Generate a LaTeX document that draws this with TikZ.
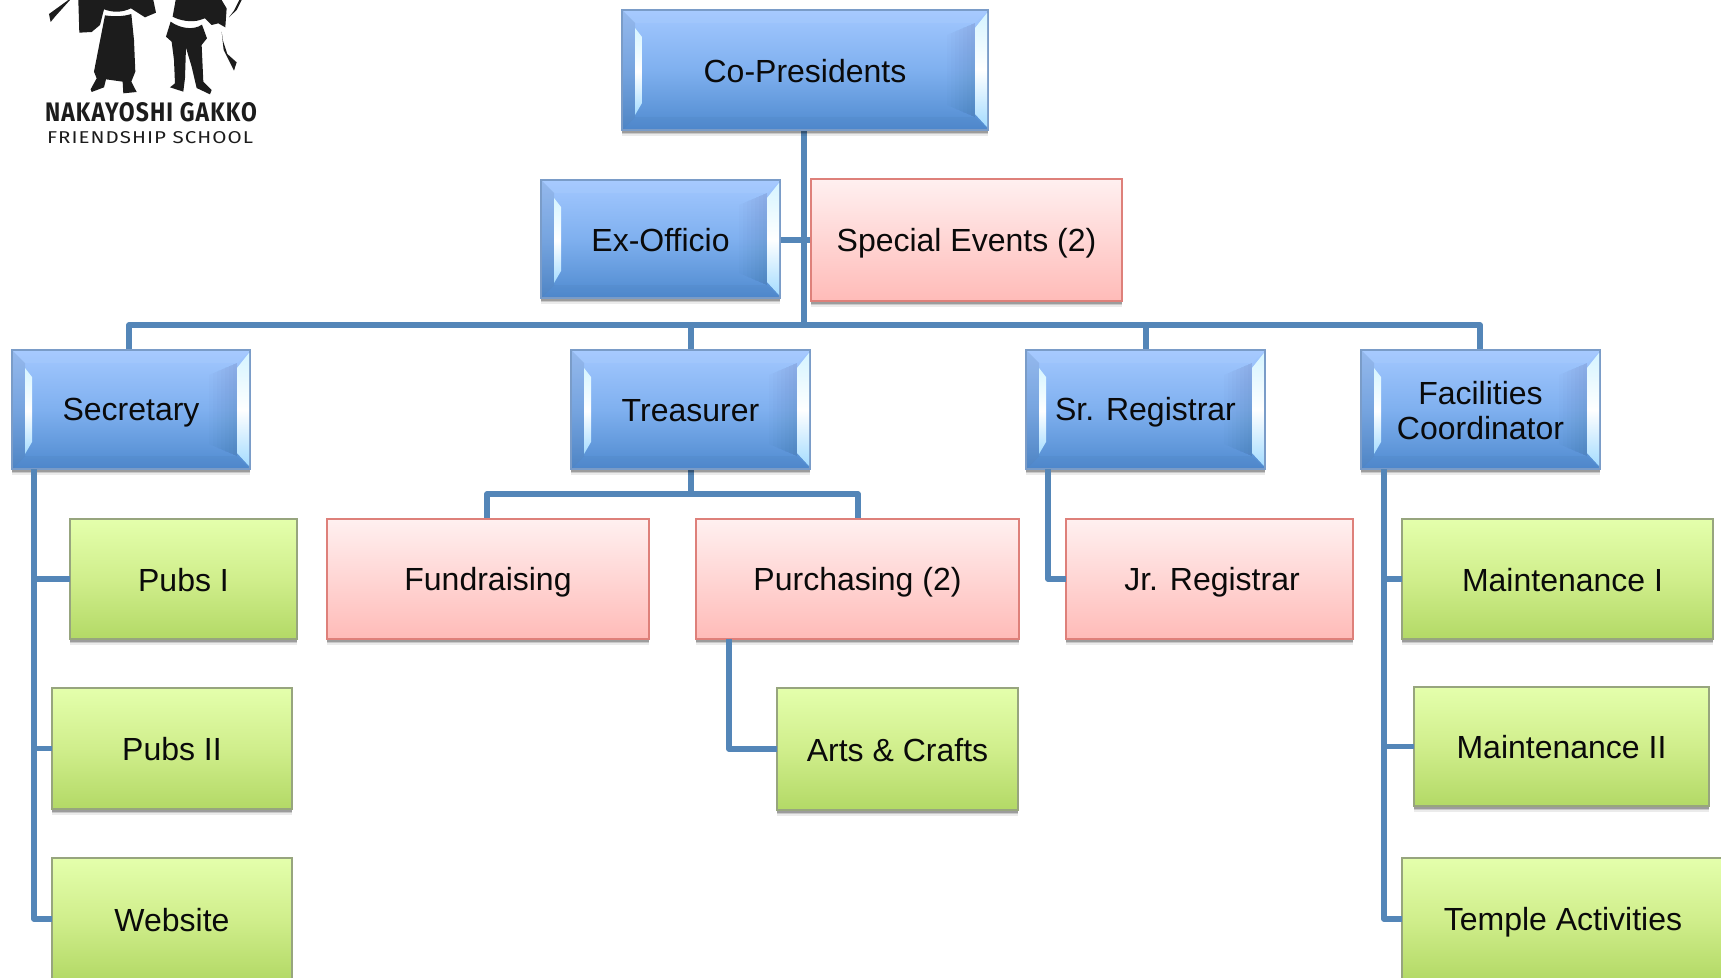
\documentclass[tikz,border=0pt]{standalone}
\usepackage{fontspec}
\setmainfont{Liberation Sans}
\newfontfamily\logofont{Fira Sans}
\usetikzlibrary{calc}
\definecolor{linkblue}{HTML}{5486B8}
\definecolor{inkc}{HTML}{0A0A0A}
\definecolor{logoc}{HTML}{1C1C1C}
\definecolor{bluetop}{HTML}{A3C8FF}\definecolor{bluemid}{HTML}{7FB0EF}\definecolor{bluebot}{HTML}{4F8ACF}
\definecolor{blueedge}{HTML}{7A9CC8}
\definecolor{stripA}{HTML}{D5F4FF}\definecolor{stripB}{HTML}{A5DCFF}
\definecolor{greentop}{HTML}{E4FFAC}\definecolor{greenmid}{HTML}{D0EE8C}\definecolor{greenbot}{HTML}{B3D966}
\definecolor{greenedge}{HTML}{97A57E}
\definecolor{pinktop}{HTML}{FFF0F0}\definecolor{pinkbot}{HTML}{FFBBB8}
\definecolor{pinkedge}{HTML}{DE807A}
\tikzset{
  x=1pt,y=-1pt,
  softshadow/.style={
    preaction={fill=black,opacity=.08,transform canvas={yshift=-5.5pt}},
    preaction={fill=black,opacity=.14,transform canvas={yshift=-4pt}},
    preaction={fill=black,opacity=.22,transform canvas={yshift=-2.5pt}}},
  basebox/.style={rectangle,inner sep=0pt,outer sep=0pt,align=center,text=inkc,
    font=\fontsize{32}{35}\selectfont,softshadow},
  greenbox/.style={basebox,draw=greenedge,line width=1.8pt,top color=greentop,bottom color=greenbot,middle color=greenmid},
  pinkbox/.style={basebox,draw=pinkedge,line width=2pt,top color=pinktop,bottom color=pinkbot},
  bluebox/.style={basebox,draw=blueedge,line width=2pt,top color=bluetop,bottom color=bluebot,middle color=bluemid},
  link/.style={draw=linkblue,line width=5.5pt,line join=round},
  logoshape/.style={fill=logoc,draw=none},
  logotext/.style={inner sep=0pt,outer sep=0pt,text=logoc},
}
\newcommand{\lblst}{\rule[-5.5pt]{0pt}{35pt}}
\newcommand{\orgbox}[7]{%
  \pgfmathsetmacro{\boxw}{#5-#3}\pgfmathsetmacro{\boxh}{#6-#4}%
  \pgfmathsetmacro{\cx}{(#3+#5)/2}\pgfmathsetmacro{\cy}{(#4+#6)/2}%
  \node[#1,minimum width=\boxw pt,minimum height=\boxh pt] (#2) at (\cx,\cy) {\lblst #7\lblst};}
\newcommand{\bevelbox}[6]{%
  \orgbox{bluebox}{#1}{#2}{#3}{#4}{#5}{#6}%
  \begin{scope}[shift={(#2,#3)}]
    \fill[black!40!bluemid,opacity=.16] (1,1) -- (13,13) -- (13,\boxh-13) -- (1,\boxh-1) -- cycle;
    \fill[white,opacity=.05] (1,1) -- (\boxw-1,1) -- (\boxw-13,13) -- (13,13) -- cycle;
    \fill[black,opacity=.025] (1,\boxh-1) -- (\boxw-1,\boxh-1) -- (\boxw-13,\boxh-13) -- (13,\boxh-13) -- cycle;
    \shade[top color=stripA,bottom color=stripB,middle color=white] (13,18) -- (20,27) -- (20,\boxh-27) -- (13,\boxh-15) -- cycle;
    \foreach \d in {1,...,7}{
      \fill[black,opacity=.011] (\boxw-13-\d*4,13+\d*1.7) -- (\boxw-13,13) -- (\boxw-13,\boxh-13) -- (\boxw-13-\d*4,\boxh-13-\d*1.7) -- cycle;}
    \shade[top color=stripA,bottom color=stripB,middle color=white] (\boxw-13,18) -- (\boxw-1,3) -- (\boxw-1,\boxh-3) -- (\boxw-13,\boxh-16) -- cycle;
  \end{scope}}
\begin{document}
\begin{tikzpicture}
\useasboundingbox (0,0) rectangle (1721,977);
\fill[white] (0,0) rectangle (1721,977);
% logo figures
\begin{scope}[shift={(30,0)},x=0.3333pt,y=-0.3333pt]
  \fill[logoshape] (115,0) -- (57,42) -- (62,66) -- (75,50) -- (120,0) -- cycle;
  \fill[logoshape] (145,0) -- (370,0) -- (378,38) -- (345,52) -- (320,36) -- (303,25) .. controls (275,38) and (250,38) .. (222,28) -- (210,75) -- (185,96) -- (148,98) -- cycle;
  \fill[logoshape] (225,46) .. controls (250,50) and (280,50) .. (304,42) -- (312,120) -- (316,215) -- (304,245) -- (320,276) -- (280,280) -- (278,245) -- (228,238) -- (222,262) -- (185,276) -- (182,268) -- (200,235) -- (192,215) -- cycle;
  \fill[logoshape] (437,0) -- (575,0) -- (590,25) -- (586,82) -- (565,70) -- (545,75) -- (525,55) -- (510,60) .. controls (485,68) and (450,62) .. (428,50) -- cycle;
  \fill[logoshape] (422,65) .. controls (450,85) and (490,92) .. (516,74) -- (531,115) -- (515,135) -- (520,245) -- (545,270) -- (540,283) -- (500,264) -- (485,200) -- (468,143) -- (465,235) -- (460,275) -- (420,262) -- (435,250) -- (432,180) -- (425,125) -- (408,110) -- cycle;
  \fill[logoshape] (575,95) -- (581,150) -- (612,212) -- (620,187) -- (592,162) -- (579,122) -- cycle;
  \fill[logoshape] (628,0) -- (612,32) -- (597,52) -- (620,30) -- (635,0) -- cycle;
\end{scope}
\node[logotext,anchor=west] (lg1) at (45,112.5) {\resizebox{212pt}{19pt}{\logofont\bfseries\addfontfeatures{LetterSpace=5}NAKAYOSHI GAKKO}};
\node[logotext,anchor=west] (lg2) at (47,138) {\resizebox{206pt}{12pt}{\logofont\addfontfeatures{LetterSpace=5}FRIENDSHIP SCHOOL}};
% connector anchors
\coordinate (busL) at (129,325);
\coordinate (busR) at (1480,325);
\coordinate (trunk) at (804,130);
\coordinate (trunkB) at (804,325);
\coordinate (secT) at (34,469);
\coordinate (treaT) at (691,469);
\coordinate (treaM) at (691,494);
\coordinate (fundT) at (487,494);
\coordinate (purT) at (858,494);
\coordinate (purS) at (729,639);
\coordinate (srS) at (1048,469);
\coordinate (facS) at (1384,469);
\coordinate (secTop) at (129,350);
\coordinate (facTop) at (1480,350);
\coordinate (exE) at (780,240);
\coordinate (seW) at (811,240);
\coordinate (treN) at (691,350);
\coordinate (srN) at (1146,350);
\coordinate (treB) at (691,325);
\coordinate (srB) at (1146,325);
% connectors first so that boxes sit on top
\draw[link] (trunk) -- (trunkB);
\draw[link] (secTop) -- (busL) -- (busR) -- (facTop);
\draw[link] (exE) -- (seW);
\draw[link] (treN) -- (treB);
\draw[link] (srN) -- (srB);
\draw[link] (treaT) -- (treaM);
\draw[link] (fundT |- 0,519) -- (fundT) -- (purT) -- (purT |- 0,519);
% boxes
\bevelbox{co}{622}{10}{988}{130}{Co-Presidents}
\bevelbox{ex}{541}{180}{780}{298}{Ex-Officio}
\orgbox{pinkbox}{se}{811}{179}{1122}{301}{Special Events (2)}
\bevelbox{sec}{12}{350}{250}{469}{Secretary}
\bevelbox{tre}{571}{350}{810}{469}{Treasurer}
\bevelbox{sr}{1026}{350}{1265}{469}{Sr. Registrar}
\bevelbox{fac}{1361}{350}{1600}{469}{Facilities\\Coordinator}
\orgbox{greenbox}{pa}{70}{519}{297}{639}{Pubs I}
\orgbox{greenbox}{pb}{52}{688}{292}{809}{Pubs II}
\orgbox{greenbox}{web}{52}{858}{292}{980}{Website}
\orgbox{pinkbox}{fu}{327}{519}{649}{639}{Fundraising}
\orgbox{pinkbox}{pu}{696}{519}{1019}{639}{Purchasing (2)}
\orgbox{greenbox}{ar}{777}{688}{1018}{810}{Arts \& Crafts}
\orgbox{pinkbox}{jr}{1066}{519}{1353}{639}{\hspace*{5pt}Jr. Registrar}
\orgbox{greenbox}{ma}{1402}{519}{1713}{639}{\hspace*{10pt}Maintenance I}
\orgbox{greenbox}{mb}{1414}{687}{1709}{806}{Maintenance II}
\orgbox{greenbox}{te}{1402}{858}{1724}{980}{Temple Activities}
% side branches
\draw[link] (secT) -- (secT |- web.west) -- (web.west);
\draw[link] (secT |- pa.west) -- (pa.west);
\draw[link] (secT |- pb.west) -- (pb.west);
\draw[link] (purS) -- (purS |- ar.west) -- (ar.west);
\draw[link] (srS) -- (srS |- jr.west) -- (jr.west);
\draw[link] (facS) -- (facS |- te.west) -- (te.west);
\draw[link] (facS |- ma.west) -- (ma.west);
\draw[link] (facS |- mb.west) -- (mb.west);
\end{tikzpicture}
\end{document}
